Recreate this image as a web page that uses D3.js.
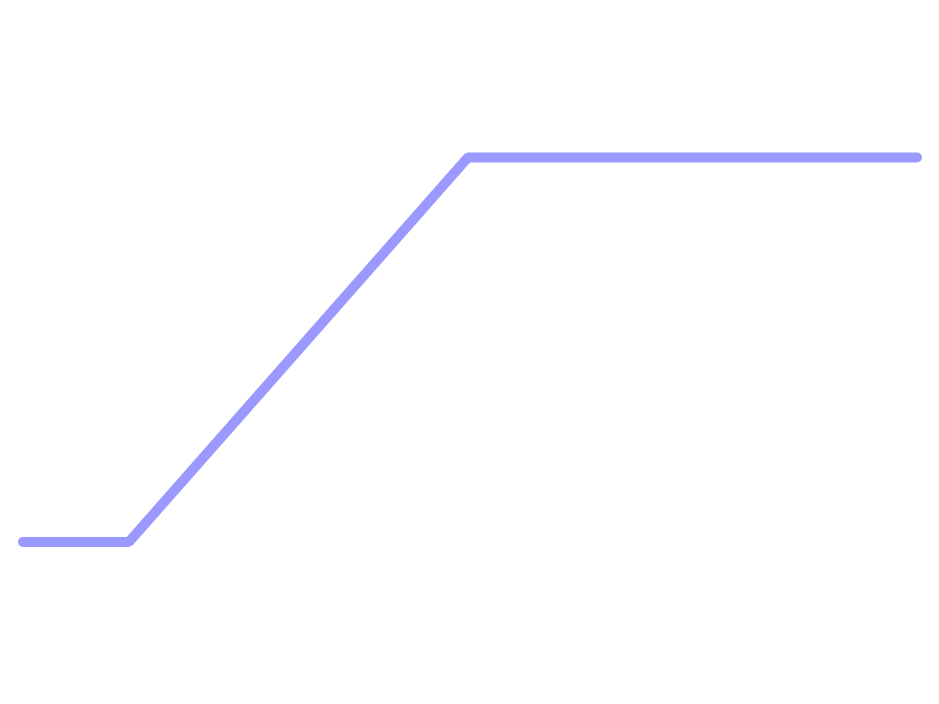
<!DOCTYPE html>
<html>
<head>
<meta charset="utf-8">
<script src="https://cdn.jsdelivr.net/npm/d3@7"></script>
<style>
  html, body { margin: 0; padding: 0; background: #fff; }
  svg { display: block; }
</style>
</head>
<body>
<svg id="chart" width="939" height="704"></svg>
<script>
const xValues = [0, 10, 42, 84.4];
const yValues = [0, 0, 1, 1];

const width = 939, height = 704;
const svg = d3.select("#chart");

const x = d3.scaleLinear().domain([0, 84.4]).range([23, 917]);
const y = d3.scaleLinear().domain([0, 1]).range([542, 157.5]);

const data = xValues.map((v, i) => ({ x: v, y: yValues[i] }));

const line = d3.line().x(d => x(d.x)).y(d => y(d.y));

svg.append("path")
  .datum(data)
  .attr("d", line)
  .attr("fill", "none")
  .attr("stroke", "#9999ff")
  .attr("stroke-width", 10)
  .attr("stroke-linecap", "round")
  .attr("stroke-linejoin", "bevel");
</script>
</body>
</html>
